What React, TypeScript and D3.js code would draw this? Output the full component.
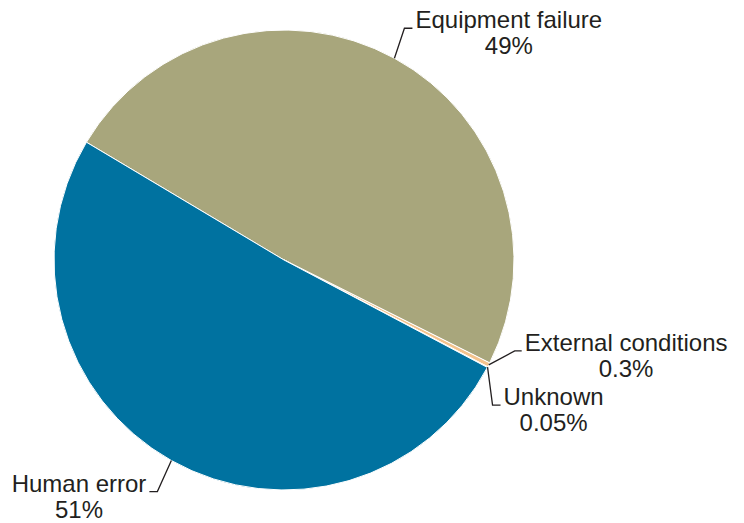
import React, { useRef, useEffect } from "react";
import * as d3 from "d3";

// chart data
const causes = ["Equipment failure", "External conditions", "Unknown", "Human error"];
const shares = [49, 0.3, 0.05, 51];
const shareLabels = ["49%", "0.3%", "0.05%", "51%"];
const sliceColors = ["#a8a67c", "#f3c38d", "#d9c9a0", "#0072a0"];

// leader line layout per label: elbow offset from slice edge, then a short horizontal run
const leaders = [
  { dx: 10, dy: -30, run: 8 },
  { dx: 26, dy: -14, run: 7 },
  { dx: 5, dy: 38, run: 8 },
  { dx: -14, dy: 31, run: -8 },
];

export default function App() {
  const svgRef = useRef<SVGSVGElement>(null);

  useEffect(() => {
    const width = 744;
    const height = 523;
    const cx = 284;
    const cy = 260;
    const radius = 230;
    const fontSize = 24;

    const root = d3.select(svgRef.current);
    root.selectAll("*").remove();
    root.attr("width", width).attr("height", height);

    const g = root.append("g").attr("transform", `translate(${cx},${cy})`);

    const rows = causes.map((c, i) => ({ cause: c, value: shares[i], label: shareLabels[i], i }));

    const startAngle = (-59.2 * Math.PI) / 180;
    const pie = d3
      .pie<any>()
      .value((d) => d.value)
      .sort(null)
      .startAngle(startAngle)
      .endAngle(startAngle + 2 * Math.PI);

    const arcs = pie(rows);
    const arc = d3.arc<any>().innerRadius(0).outerRadius(radius);

    g.selectAll("path.slice")
      .data(arcs)
      .enter()
      .append("path")
      .attr("class", "slice")
      .attr("d", arc)
      .attr("fill", (d) => sliceColors[d.data.i])
      .attr("stroke", "#ffffff")
      .attr("stroke-width", 1);

    // edge point at the middle angle of a slice
    const edgePoint = (d: any) => {
      const a = (d.startAngle + d.endAngle) / 2;
      return [radius * Math.sin(a), -radius * Math.cos(a)];
    };

    arcs.forEach((d) => {
      const lay = leaders[d.data.i];
      const [px, py] = edgePoint(d);
      const ex = px + lay.dx;
      const ey = py + lay.dy;
      const hx = ex + lay.run;

      g.append("polyline")
        .attr("points", [[px, py], [ex, ey], [hx, ey]].map((p) => p.join(",")).join(" "))
        .attr("fill", "none")
        .attr("stroke", "#231f20")
        .attr("stroke-width", 1.3);

      const onRight = lay.run > 0;
      const t1 = g
        .append("text")
        .attr("x", hx + (onRight ? 3 : -3))
        .attr("y", ey)
        .attr("text-anchor", onRight ? "start" : "end")
        .attr("font-family", "'Liberation Sans', Arial, sans-serif")
        .attr("font-size", fontSize)
        .attr("fill", "#231f20")
        .text(d.data.cause);

      const w = (t1.node() as SVGTextElement).getComputedTextLength();
      const mid = onRight ? hx + 3 + w / 2 : hx - 3 - w / 2;

      g.append("text")
        .attr("x", mid)
        .attr("y", ey + 26)
        .attr("text-anchor", "middle")
        .attr("font-family", "'Liberation Sans', Arial, sans-serif")
        .attr("font-size", fontSize)
        .attr("fill", "#231f20")
        .text(d.data.label);
    });
  }, []);

  return (
    <svg
      ref={svgRef}
      style={{ position: "absolute", left: 0, top: 0, background: "#ffffff" }}
    ></svg>
  );
}
